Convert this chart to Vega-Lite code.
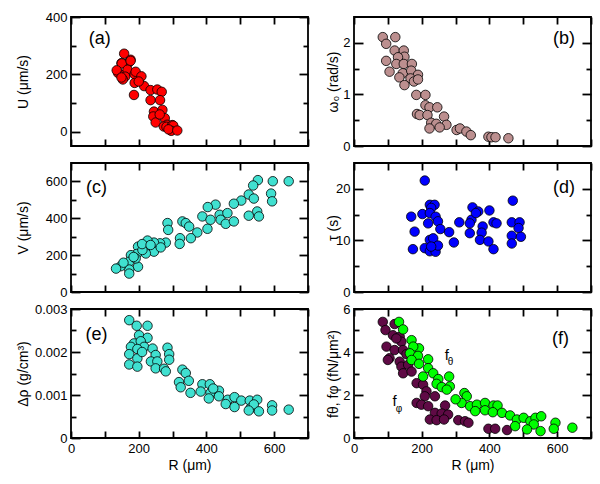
{
  "$schema": "https://vega.github.io/schema/vega-lite/v6.json",
  "padding": {"left": 15, "top": 10, "right": 5, "bottom": 5},
  "background": "white",
  "config": {
    "view": {"stroke": "#000000", "strokeWidth": 1.8},
    "axis": {"grid": false, "domain": false, "ticks": true, "tickColor": "#000000", "tickWidth": 1.8, "labelColor": "#000000", "labelFont": "Liberation Sans", "labelFontSize": 13, "titleFont": "Liberation Sans", "titleFontSize": 14, "titleFontWeight": "normal", "titleColor": "#000000", "labelFlush": false, "labelOverlap": false, "labelPadding": 4}
  },
  "datasets": {
    "a": [
      {"R":157,"U":272},{"R":176,"U":251},{"R":149,"U":239},{"R":169,"U":239},{"R":150,"U":238},{"R":176,"U":247},{"R":139,"U":205},{"R":135,"U":214},{"R":159,"U":200},{"R":167,"U":216},{"R":160,"U":192},{"R":153,"U":182},{"R":149,"U":189},{"R":188,"U":200},{"R":191,"U":209},{"R":208,"U":193},{"R":188,"U":170},{"R":186,"U":128},{"R":216,"U":159},{"R":235,"U":145},{"R":255,"U":147},{"R":268,"U":139},{"R":235,"U":110},{"R":263,"U":110},{"R":245,"U":70},{"R":270,"U":76},{"R":243,"U":53},{"R":250,"U":32},{"R":277,"U":47},{"R":284,"U":24},{"R":274,"U":18},{"R":294,"U":7},{"R":282,"U":17},{"R":299,"U":23},{"R":302,"U":21},{"R":296,"U":3},{"R":288,"U":8},{"R":314,"U":4},{"R":262,"U":60},{"R":200,"U":175}
    ],
    "b": [
      {"R":85,"w":2.11},{"R":122,"w":2.11},{"R":95,"w":1.98},{"R":120,"w":1.85},{"R":147,"w":1.85},{"R":149,"w":1.73},{"R":130,"w":1.72},{"R":95,"w":1.65},{"R":125,"w":1.59},{"R":147,"w":1.59},{"R":171,"w":1.59},{"R":105,"w":1.44},{"R":144,"w":1.41},{"R":169,"w":1.46},{"R":189,"w":1.38},{"R":134,"w":1.33},{"R":167,"w":1.31},{"R":177,"w":1.25},{"R":189,"w":1.29},{"R":149,"w":1.18},{"R":184,"w":0.99},{"R":211,"w":0.99},{"R":211,"w":0.79},{"R":223,"w":0.75},{"R":246,"w":0.75},{"R":186,"w":0.62},{"R":194,"w":0.60},{"R":217,"w":0.60},{"R":266,"w":0.57},{"R":228,"w":0.45},{"R":243,"w":0.43},{"R":273,"w":0.41},{"R":223,"w":0.34},{"R":253,"w":0.36},{"R":303,"w":0.31},{"R":313,"w":0.34},{"R":332,"w":0.28},{"R":345,"w":0.21},{"R":397,"w":0.18},{"R":406,"w":0.17},{"R":418,"w":0.17},{"R":456,"w":0.15}
    ],
    "c": [
      {"R":552,"V":607},{"R":596,"V":601},{"R":643,"V":601},{"R":538,"V":578},{"R":525,"V":529},{"R":540,"V":507},{"R":591,"V":534},{"R":594,"V":492},{"R":503,"V":496},{"R":481,"V":479},{"R":550,"V":437},{"R":525,"V":414},{"R":555,"V":410},{"R":427,"V":474},{"R":404,"V":461},{"R":388,"V":410},{"R":412,"V":392},{"R":439,"V":419},{"R":462,"V":428},{"R":442,"V":392},{"R":457,"V":370},{"R":481,"V":383},{"R":403,"V":343},{"R":373,"V":323},{"R":354,"V":292},{"R":329,"V":383},{"R":339,"V":374},{"R":349,"V":355},{"R":285,"V":374},{"R":287,"V":337},{"R":322,"V":292},{"R":321,"V":261},{"R":280,"V":268},{"R":263,"V":264},{"R":245,"V":268},{"R":226,"V":279},{"R":226,"V":246},{"R":245,"V":219},{"R":221,"V":209},{"R":198,"V":246},{"R":194,"V":206},{"R":177,"V":200},{"R":172,"V":164},{"R":198,"V":137},{"R":172,"V":122},{"R":147,"V":140},{"R":133,"V":127},{"R":172,"V":100},{"R":191,"V":182},{"R":211,"V":228},{"R":265,"V":242},{"R":155,"V":159},{"R":210,"V":260},{"R":185,"V":190},{"R":235,"V":255}
    ],
    "d": [
      {"R":209,"tau":21.6},{"R":169,"tau":14.6},{"R":179,"tau":11.7},{"R":174,"tau":8.3},{"R":202,"tau":15.1},{"R":224,"tau":16.9},{"R":238,"tau":16.9},{"R":228,"tau":16.3},{"R":224,"tau":15.3},{"R":241,"tau":14.6},{"R":219,"tau":13.3},{"R":248,"tau":13.7},{"R":255,"tau":12.2},{"R":281,"tau":11.6},{"R":295,"tau":9.6},{"R":224,"tau":10.1},{"R":234,"tau":10.4},{"R":209,"tau":8.5},{"R":224,"tau":7.9},{"R":241,"tau":7.8},{"R":248,"tau":9.0},{"R":228,"tau":8.8},{"R":311,"tau":13.5},{"R":350,"tau":16.4},{"R":367,"tau":15.6},{"R":400,"tau":15.8},{"R":347,"tau":14.0},{"R":342,"tau":13.3},{"R":380,"tau":12.7},{"R":412,"tau":13.5},{"R":421,"tau":13.3},{"R":342,"tau":11.4},{"R":377,"tau":11.5},{"R":372,"tau":10.1},{"R":397,"tau":9.8},{"R":412,"tau":8.3},{"R":469,"tau":17.7},{"R":466,"tau":13.5},{"R":489,"tau":13.5},{"R":486,"tau":12.4},{"R":466,"tau":10.9},{"R":493,"tau":10.7},{"R":466,"tau":9.4},{"R":360,"tau":15.3}
    ],
    "e": [
      {"R":172,"drho":0.00274},{"R":194,"drho":0.00261},{"R":226,"drho":0.00261},{"R":201,"drho":0.00239},{"R":226,"drho":0.00233},{"R":186,"drho":0.00220},{"R":206,"drho":0.00225},{"R":177,"drho":0.00212},{"R":216,"drho":0.00212},{"R":241,"drho":0.00208},{"R":196,"drho":0.00207},{"R":172,"drho":0.00195},{"R":196,"drho":0.00185},{"R":172,"drho":0.00171},{"R":196,"drho":0.00166},{"R":250,"drho":0.00193},{"R":236,"drho":0.00178},{"R":255,"drho":0.00178},{"R":285,"drho":0.00210},{"R":290,"drho":0.00195},{"R":290,"drho":0.00182},{"R":250,"drho":0.00162},{"R":275,"drho":0.00161},{"R":280,"drho":0.00155},{"R":329,"drho":0.00159},{"R":339,"drho":0.00151},{"R":348,"drho":0.00133},{"R":319,"drho":0.00130},{"R":324,"drho":0.00118},{"R":353,"drho":0.00105},{"R":388,"drho":0.00125},{"R":410,"drho":0.00125},{"R":412,"drho":0.00105},{"R":407,"drho":0.00092},{"R":437,"drho":0.00110},{"R":437,"drho":0.00097},{"R":463,"drho":0.00089},{"R":483,"drho":0.00095},{"R":457,"drho":0.00079},{"R":483,"drho":0.00072},{"R":503,"drho":0.00087},{"R":528,"drho":0.00087},{"R":550,"drho":0.00089},{"R":530,"drho":0.00069},{"R":540,"drho":0.00078},{"R":555,"drho":0.00062},{"R":525,"drho":0.00064},{"R":594,"drho":0.00076},{"R":594,"drho":0.00064},{"R":643,"drho":0.00066},{"R":383,"drho":0.00108},{"R":420,"drho":0.00115},{"R":210,"drho":0.00200}
    ],
    "f": [
      {"R":85,"force":5.40,"s":"phi"},{"R":93,"force":5.02,"s":"phi"},{"R":115,"force":4.78,"s":"phi"},{"R":135,"force":4.71,"s":"phi"},{"R":140,"force":4.48,"s":"phi"},{"R":96,"force":4.25,"s":"phi"},{"R":120,"force":4.09,"s":"phi"},{"R":145,"force":4.09,"s":"phi"},{"R":105,"force":3.71,"s":"phi"},{"R":135,"force":3.55,"s":"phi"},{"R":140,"force":3.32,"s":"phi"},{"R":160,"force":3.40,"s":"phi"},{"R":145,"force":3.01,"s":"phi"},{"R":170,"force":3.09,"s":"phi"},{"R":185,"force":2.55,"s":"phi"},{"R":204,"force":2.48,"s":"phi"},{"R":214,"force":2.17,"s":"phi"},{"R":209,"force":1.94,"s":"phi"},{"R":239,"force":1.94,"s":"phi"},{"R":185,"force":1.63,"s":"phi"},{"R":199,"force":1.55,"s":"phi"},{"R":219,"force":1.48,"s":"phi"},{"R":269,"force":1.51,"s":"phi"},{"R":239,"force":1.17,"s":"phi"},{"R":259,"force":1.14,"s":"phi"},{"R":278,"force":1.09,"s":"phi"},{"R":224,"force":0.86,"s":"phi"},{"R":244,"force":0.83,"s":"phi"},{"R":266,"force":0.86,"s":"phi"},{"R":308,"force":0.83,"s":"phi"},{"R":328,"force":0.78,"s":"phi"},{"R":338,"force":0.71,"s":"phi"},{"R":397,"force":0.43,"s":"phi"},{"R":417,"force":0.43,"s":"phi"},{"R":452,"force":0.37,"s":"phi"},{"R":125,"force":4.63,"s":"phi"},{"R":120,"force":5.30,"s":"phi"},{"R":100,"force":3.63,"s":"phi"},{"R":155,"force":3.9,"s":"phi"},
      {"R":133,"force":5.40,"s":"theta"},{"R":145,"force":5.05,"s":"theta"},{"R":170,"force":4.55,"s":"theta"},{"R":192,"force":4.17,"s":"theta"},{"R":175,"force":4.25,"s":"theta"},{"R":165,"force":3.94,"s":"theta"},{"R":189,"force":3.82,"s":"theta"},{"R":170,"force":3.63,"s":"theta"},{"R":192,"force":3.45,"s":"theta"},{"R":219,"force":3.66,"s":"theta"},{"R":219,"force":3.25,"s":"theta"},{"R":234,"force":3.01,"s":"theta"},{"R":249,"force":2.74,"s":"theta"},{"R":281,"force":2.86,"s":"theta"},{"R":244,"force":2.52,"s":"theta"},{"R":259,"force":2.37,"s":"theta"},{"R":283,"force":2.40,"s":"theta"},{"R":274,"force":2.25,"s":"theta"},{"R":326,"force":2.09,"s":"theta"},{"R":333,"force":1.94,"s":"theta"},{"R":318,"force":1.63,"s":"theta"},{"R":343,"force":1.48,"s":"theta"},{"R":363,"force":1.55,"s":"theta"},{"R":387,"force":1.63,"s":"theta"},{"R":412,"force":1.51,"s":"theta"},{"R":424,"force":1.51,"s":"theta"},{"R":387,"force":1.29,"s":"theta"},{"R":410,"force":1.20,"s":"theta"},{"R":437,"force":1.17,"s":"theta"},{"R":461,"force":1.05,"s":"theta"},{"R":481,"force":0.86,"s":"theta"},{"R":501,"force":0.94,"s":"theta"},{"R":521,"force":0.78,"s":"theta"},{"R":536,"force":0.94,"s":"theta"},{"R":553,"force":1.01,"s":"theta"},{"R":531,"force":0.63,"s":"theta"},{"R":551,"force":0.32,"s":"theta"},{"R":595,"force":0.71,"s":"theta"},{"R":590,"force":0.43,"s":"theta"},{"R":645,"force":0.48,"s":"theta"},{"R":204,"force":2.86,"s":"theta"},{"R":476,"force":0.55,"s":"theta"},{"R":511,"force":0.40,"s":"theta"},{"R":300,"force":1.8,"s":"theta"},{"R":358,"force":1.25,"s":"theta"}
    ]
  },
  "columns": 2,
  "spacing": {"row": 17, "column": 46},
  "bounds": "flush",
  "concat": [
    {
      "width": 237, "height": 129,
      "data": {"name": "a"},
      "layer": [
        {"mark": {"type": "circle", "size": 90, "fill": "#ff0000", "stroke": "#000000", "strokeWidth": 0.8, "opacity": 1},
         "encoding": {
           "x": {"field": "R", "type": "quantitative", "scale": {"domain": [0, 700], "nice": false, "zero": false}, "axis": {"orient": "bottom", "values": [0,100,200,300,400,500,600,700], "labels": false, "offset": -7, "tickSize": 7, "title": null}},
           "y": {"field": "U", "type": "quantitative", "scale": {"domain": [-50, 400], "nice": false, "zero": false}, "axis": {"orient": "left", "values": [0,200,400], "format": ".4~f", "offset": -9, "tickSize": 9, "title": "U (μm/s)", "titleX": -57, "titleBaseline": "middle"}}}},
        {"mark": {"type": "circle", "opacity": 0},
         "encoding": {
           "x": {"field": "R", "type": "quantitative", "scale": {"domain": [0, 700], "nice": false, "zero": false}, "axis": {"orient": "top", "values": [0,100,200,300,400,500,600,700], "labels": false, "offset": -7, "tickSize": 7, "title": null}},
           "y": {"field": "U", "type": "quantitative", "scale": {"domain": [-50, 400], "nice": false, "zero": false}, "axis": {"orient": "right", "values": [0,200,400], "labels": false, "offset": -9, "tickSize": 9, "title": null}}}},
        {"mark": {"type": "circle", "opacity": 0},
         "encoding": {
           "x": {"field": "R", "type": "quantitative", "scale": {"domain": [0, 700], "nice": false, "zero": false}, "axis": null},
           "y": {"field": "U", "type": "quantitative", "scale": {"domain": [-50, 400], "nice": false, "zero": false}, "axis": {"orient": "left", "values": [100,300], "labels": false, "offset": -5, "tickSize": 5, "title": null}}}},
        {"mark": {"type": "circle", "opacity": 0},
         "encoding": {
           "x": {"field": "R", "type": "quantitative", "scale": {"domain": [0, 700], "nice": false, "zero": false}, "axis": null},
           "y": {"field": "U", "type": "quantitative", "scale": {"domain": [-50, 400], "nice": false, "zero": false}, "axis": {"orient": "right", "values": [100,300], "labels": false, "offset": -5, "tickSize": 5, "title": null}}}},
        {"data": {"values": [{"label": "(a)", "R": 85, "U": 323}]},
         "mark": {"type": "text", "fontSize": 18, "font": "Liberation Sans", "fill": "#000000"},
         "encoding": {
           "x": {"field": "R", "type": "quantitative", "scale": {"domain": [0, 700], "nice": false, "zero": false}, "axis": null},
           "y": {"field": "U", "type": "quantitative", "scale": {"domain": [-50, 400], "nice": false, "zero": false}, "axis": null},
           "text": {"field": "label"}}}
      ],
      "resolve": {"axis": {"x": "independent", "y": "independent"}}
    },
    {
      "width": 237, "height": 129,
      "data": {"name": "b"},
      "layer": [
        {"mark": {"type": "circle", "size": 90, "fill": "#bc8f8f", "stroke": "#000000", "strokeWidth": 0.8, "opacity": 1},
         "encoding": {
           "x": {"field": "R", "type": "quantitative", "scale": {"domain": [0, 700], "nice": false, "zero": false}, "axis": {"orient": "bottom", "values": [0,100,200,300,400,500,600,700], "labels": false, "offset": -7, "tickSize": 7, "title": null}},
           "y": {"field": "w", "type": "quantitative", "scale": {"domain": [0, 2.5], "nice": false, "zero": false}, "axis": {"orient": "left", "values": [0,1,2], "format": ".4~f", "offset": -9, "tickSize": 9, "title": "ω₀ (rad/s)", "titleX": -30, "titleBaseline": "middle"}}}},
        {"mark": {"type": "circle", "opacity": 0},
         "encoding": {
           "x": {"field": "R", "type": "quantitative", "scale": {"domain": [0, 700], "nice": false, "zero": false}, "axis": {"orient": "top", "values": [0,100,200,300,400,500,600,700], "labels": false, "offset": -7, "tickSize": 7, "title": null}},
           "y": {"field": "w", "type": "quantitative", "scale": {"domain": [0, 2.5], "nice": false, "zero": false}, "axis": {"orient": "right", "values": [0,1,2], "labels": false, "offset": -9, "tickSize": 9, "title": null}}}},
        {"mark": {"type": "circle", "opacity": 0},
         "encoding": {
           "x": {"field": "R", "type": "quantitative", "scale": {"domain": [0, 700], "nice": false, "zero": false}, "axis": null},
           "y": {"field": "w", "type": "quantitative", "scale": {"domain": [0, 2.5], "nice": false, "zero": false}, "axis": {"orient": "left", "values": [0.5,1.5], "labels": false, "offset": -5, "tickSize": 5, "title": null}}}},
        {"mark": {"type": "circle", "opacity": 0},
         "encoding": {
           "x": {"field": "R", "type": "quantitative", "scale": {"domain": [0, 700], "nice": false, "zero": false}, "axis": null},
           "y": {"field": "w", "type": "quantitative", "scale": {"domain": [0, 2.5], "nice": false, "zero": false}, "axis": {"orient": "right", "values": [0.5,1.5], "labels": false, "offset": -5, "tickSize": 5, "title": null}}}},
        {"data": {"values": [{"label": "(b)", "R": 620, "w": 2.07}]},
         "mark": {"type": "text", "fontSize": 18, "font": "Liberation Sans", "fill": "#000000"},
         "encoding": {
           "x": {"field": "R", "type": "quantitative", "scale": {"domain": [0, 700], "nice": false, "zero": false}, "axis": null},
           "y": {"field": "w", "type": "quantitative", "scale": {"domain": [0, 2.5], "nice": false, "zero": false}, "axis": null},
           "text": {"field": "label"}}}
      ],
      "resolve": {"axis": {"x": "independent", "y": "independent"}}
    },
    {
      "width": 237, "height": 129,
      "data": {"name": "c"},
      "layer": [
        {"mark": {"type": "circle", "size": 90, "fill": "#40e0d0", "stroke": "#000000", "strokeWidth": 0.8, "opacity": 1},
         "encoding": {
           "x": {"field": "R", "type": "quantitative", "scale": {"domain": [0, 700], "nice": false, "zero": false}, "axis": {"orient": "bottom", "values": [0,100,200,300,400,500,600,700], "labels": false, "offset": -7, "tickSize": 7, "title": null}},
           "y": {"field": "V", "type": "quantitative", "scale": {"domain": [0, 700], "nice": false, "zero": false}, "axis": {"orient": "left", "values": [0,200,400,600], "format": ".4~f", "offset": -9, "tickSize": 9, "title": "V (μm/s)", "titleX": -57, "titleBaseline": "middle"}}}},
        {"mark": {"type": "circle", "opacity": 0},
         "encoding": {
           "x": {"field": "R", "type": "quantitative", "scale": {"domain": [0, 700], "nice": false, "zero": false}, "axis": {"orient": "top", "values": [0,100,200,300,400,500,600,700], "labels": false, "offset": -7, "tickSize": 7, "title": null}},
           "y": {"field": "V", "type": "quantitative", "scale": {"domain": [0, 700], "nice": false, "zero": false}, "axis": {"orient": "right", "values": [0,200,400,600], "labels": false, "offset": -9, "tickSize": 9, "title": null}}}},
        {"mark": {"type": "circle", "opacity": 0},
         "encoding": {
           "x": {"field": "R", "type": "quantitative", "scale": {"domain": [0, 700], "nice": false, "zero": false}, "axis": null},
           "y": {"field": "V", "type": "quantitative", "scale": {"domain": [0, 700], "nice": false, "zero": false}, "axis": {"orient": "left", "values": [100,300,500], "labels": false, "offset": -5, "tickSize": 5, "title": null}}}},
        {"mark": {"type": "circle", "opacity": 0},
         "encoding": {
           "x": {"field": "R", "type": "quantitative", "scale": {"domain": [0, 700], "nice": false, "zero": false}, "axis": null},
           "y": {"field": "V", "type": "quantitative", "scale": {"domain": [0, 700], "nice": false, "zero": false}, "axis": {"orient": "right", "values": [100,300,500], "labels": false, "offset": -5, "tickSize": 5, "title": null}}}},
        {"data": {"values": [{"label": "(c)", "R": 75, "V": 563}]},
         "mark": {"type": "text", "fontSize": 18, "font": "Liberation Sans", "fill": "#000000"},
         "encoding": {
           "x": {"field": "R", "type": "quantitative", "scale": {"domain": [0, 700], "nice": false, "zero": false}, "axis": null},
           "y": {"field": "V", "type": "quantitative", "scale": {"domain": [0, 700], "nice": false, "zero": false}, "axis": null},
           "text": {"field": "label"}}}
      ],
      "resolve": {"axis": {"x": "independent", "y": "independent"}}
    },
    {
      "width": 237, "height": 129,
      "data": {"name": "d"},
      "layer": [
        {"mark": {"type": "circle", "size": 90, "fill": "#0000ff", "stroke": "#000000", "strokeWidth": 0.8, "opacity": 1},
         "encoding": {
           "x": {"field": "R", "type": "quantitative", "scale": {"domain": [0, 700], "nice": false, "zero": false}, "axis": {"orient": "bottom", "values": [0,100,200,300,400,500,600,700], "labels": false, "offset": -7, "tickSize": 7, "title": null}},
           "y": {"field": "tau", "type": "quantitative", "scale": {"domain": [0, 25], "nice": false, "zero": false}, "axis": {"orient": "left", "values": [0,10,20], "format": ".4~f", "offset": -9, "tickSize": 9, "title": "τ (s)", "titleX": -30, "titleBaseline": "middle"}}}},
        {"mark": {"type": "circle", "opacity": 0},
         "encoding": {
           "x": {"field": "R", "type": "quantitative", "scale": {"domain": [0, 700], "nice": false, "zero": false}, "axis": {"orient": "top", "values": [0,100,200,300,400,500,600,700], "labels": false, "offset": -7, "tickSize": 7, "title": null}},
           "y": {"field": "tau", "type": "quantitative", "scale": {"domain": [0, 25], "nice": false, "zero": false}, "axis": {"orient": "right", "values": [0,10,20], "labels": false, "offset": -9, "tickSize": 9, "title": null}}}},
        {"mark": {"type": "circle", "opacity": 0},
         "encoding": {
           "x": {"field": "R", "type": "quantitative", "scale": {"domain": [0, 700], "nice": false, "zero": false}, "axis": null},
           "y": {"field": "tau", "type": "quantitative", "scale": {"domain": [0, 25], "nice": false, "zero": false}, "axis": {"orient": "left", "values": [5,15], "labels": false, "offset": -5, "tickSize": 5, "title": null}}}},
        {"mark": {"type": "circle", "opacity": 0},
         "encoding": {
           "x": {"field": "R", "type": "quantitative", "scale": {"domain": [0, 700], "nice": false, "zero": false}, "axis": null},
           "y": {"field": "tau", "type": "quantitative", "scale": {"domain": [0, 25], "nice": false, "zero": false}, "axis": {"orient": "right", "values": [5,15], "labels": false, "offset": -5, "tickSize": 5, "title": null}}}},
        {"data": {"values": [{"label": "(d)", "R": 620, "tau": 20.1}]},
         "mark": {"type": "text", "fontSize": 18, "font": "Liberation Sans", "fill": "#000000"},
         "encoding": {
           "x": {"field": "R", "type": "quantitative", "scale": {"domain": [0, 700], "nice": false, "zero": false}, "axis": null},
           "y": {"field": "tau", "type": "quantitative", "scale": {"domain": [0, 25], "nice": false, "zero": false}, "axis": null},
           "text": {"field": "label"}}}
      ],
      "resolve": {"axis": {"x": "independent", "y": "independent"}}
    },
    {
      "width": 237, "height": 129,
      "data": {"name": "e"},
      "layer": [
        {"mark": {"type": "circle", "size": 90, "fill": "#40e0d0", "stroke": "#000000", "strokeWidth": 0.8, "opacity": 1},
         "encoding": {
           "x": {"field": "R", "type": "quantitative", "scale": {"domain": [0, 700], "nice": false, "zero": false}, "axis": {"orient": "bottom", "values": [0,100,200,300,400,500,600,700], "labelExpr": "datum.value % 200 == 0 ? datum.label : ''", "format": ".4~f", "offset": -7, "tickSize": 7, "title": "R (μm)", "titlePadding": 3}},
           "y": {"field": "drho", "type": "quantitative", "scale": {"domain": [0, 0.003], "nice": false, "zero": false}, "axis": {"orient": "left", "values": [0,0.001,0.002,0.003], "format": ".4~f", "offset": -9, "tickSize": 9, "title": "Δρ (g/cm³)", "titleX": -57, "titleBaseline": "middle"}}}},
        {"mark": {"type": "circle", "opacity": 0},
         "encoding": {
           "x": {"field": "R", "type": "quantitative", "scale": {"domain": [0, 700], "nice": false, "zero": false}, "axis": {"orient": "top", "values": [0,100,200,300,400,500,600,700], "labels": false, "offset": -7, "tickSize": 7, "title": null}},
           "y": {"field": "drho", "type": "quantitative", "scale": {"domain": [0, 0.003], "nice": false, "zero": false}, "axis": {"orient": "right", "values": [0,0.001,0.002,0.003], "labels": false, "offset": -9, "tickSize": 9, "title": null}}}},
        {"mark": {"type": "circle", "opacity": 0},
         "encoding": {
           "x": {"field": "R", "type": "quantitative", "scale": {"domain": [0, 700], "nice": false, "zero": false}, "axis": null},
           "y": {"field": "drho", "type": "quantitative", "scale": {"domain": [0, 0.003], "nice": false, "zero": false}, "axis": {"orient": "left", "values": [0.0005,0.0015,0.0025], "labels": false, "offset": -5, "tickSize": 5, "title": null}}}},
        {"mark": {"type": "circle", "opacity": 0},
         "encoding": {
           "x": {"field": "R", "type": "quantitative", "scale": {"domain": [0, 700], "nice": false, "zero": false}, "axis": null},
           "y": {"field": "drho", "type": "quantitative", "scale": {"domain": [0, 0.003], "nice": false, "zero": false}, "axis": {"orient": "right", "values": [0.0005,0.0015,0.0025], "labels": false, "offset": -5, "tickSize": 5, "title": null}}}},
        {"data": {"values": [{"label": "(e)", "R": 75, "drho": 0.0024}]},
         "mark": {"type": "text", "fontSize": 18, "font": "Liberation Sans", "fill": "#000000"},
         "encoding": {
           "x": {"field": "R", "type": "quantitative", "scale": {"domain": [0, 700], "nice": false, "zero": false}, "axis": null},
           "y": {"field": "drho", "type": "quantitative", "scale": {"domain": [0, 0.003], "nice": false, "zero": false}, "axis": null},
           "text": {"field": "label"}}}
      ],
      "resolve": {"axis": {"x": "independent", "y": "independent"}}
    },
    {
      "width": 237, "height": 129,
      "data": {"name": "f"},
      "layer": [
        {"mark": {"type": "circle", "size": 90, "stroke": "#000000", "strokeWidth": 0.8, "opacity": 1},
         "encoding": {
           "x": {"field": "R", "type": "quantitative", "scale": {"domain": [0, 700], "nice": false, "zero": false}, "axis": {"orient": "bottom", "values": [0,100,200,300,400,500,600,700], "labelExpr": "datum.value % 200 == 0 ? datum.label : ''", "format": ".4~f", "offset": -7, "tickSize": 7, "title": "R (μm)", "titlePadding": 3}},
           "y": {"field": "force", "type": "quantitative", "scale": {"domain": [0, 6], "nice": false, "zero": false}, "axis": {"orient": "left", "values": [0,2,4,6], "format": ".4~f", "offset": -9, "tickSize": 9, "title": "fθ, fφ (fN/μm²)", "titleX": -30, "titleBaseline": "middle"}},
           "fill": {"field": "s", "type": "nominal", "scale": {"domain": ["phi", "theta"], "range": ["#5f0a45", "#00ff00"]}, "legend": null}}},
        {"mark": {"type": "circle", "opacity": 0},
         "encoding": {
           "x": {"field": "R", "type": "quantitative", "scale": {"domain": [0, 700], "nice": false, "zero": false}, "axis": {"orient": "top", "values": [0,100,200,300,400,500,600,700], "labels": false, "offset": -7, "tickSize": 7, "title": null}},
           "y": {"field": "force", "type": "quantitative", "scale": {"domain": [0, 6], "nice": false, "zero": false}, "axis": {"orient": "right", "values": [0,2,4,6], "labels": false, "offset": -9, "tickSize": 9, "title": null}}}},
        {"mark": {"type": "circle", "opacity": 0},
         "encoding": {
           "x": {"field": "R", "type": "quantitative", "scale": {"domain": [0, 700], "nice": false, "zero": false}, "axis": null},
           "y": {"field": "force", "type": "quantitative", "scale": {"domain": [0, 6], "nice": false, "zero": false}, "axis": {"orient": "left", "values": [1,3,5], "labels": false, "offset": -5, "tickSize": 5, "title": null}}}},
        {"mark": {"type": "circle", "opacity": 0},
         "encoding": {
           "x": {"field": "R", "type": "quantitative", "scale": {"domain": [0, 700], "nice": false, "zero": false}, "axis": null},
           "y": {"field": "force", "type": "quantitative", "scale": {"domain": [0, 6], "nice": false, "zero": false}, "axis": {"orient": "right", "values": [1,3,5], "labels": false, "offset": -5, "tickSize": 5, "title": null}}}},
        {"data": {"values": [{"label": "(f)", "R": 610, "force": 4.6}]},
         "mark": {"type": "text", "fontSize": 18, "font": "Liberation Sans", "fill": "#000000"},
         "encoding": {
           "x": {"field": "R", "type": "quantitative", "scale": {"domain": [0, 700], "nice": false, "zero": false}, "axis": null},
           "y": {"field": "force", "type": "quantitative", "scale": {"domain": [0, 6], "nice": false, "zero": false}, "axis": null},
           "text": {"field": "label"}}},
        {"data": {"values": [{"label": "f", "R": 274, "force": 3.86}, {"label": "f", "R": 120, "force": 1.74}]},
         "mark": {"type": "text", "fontSize": 15, "font": "Liberation Sans", "fill": "#000000"},
         "encoding": {
           "x": {"field": "R", "type": "quantitative", "scale": {"domain": [0, 700], "nice": false, "zero": false}, "axis": null},
           "y": {"field": "force", "type": "quantitative", "scale": {"domain": [0, 6], "nice": false, "zero": false}, "axis": null},
           "text": {"field": "label"}}},
        {"data": {"values": [{"label": "θ", "R": 285, "force": 3.52}, {"label": "φ", "R": 133, "force": 1.37}]},
         "mark": {"type": "text", "fontSize": 10, "font": "Liberation Sans", "fill": "#000000"},
         "encoding": {
           "x": {"field": "R", "type": "quantitative", "scale": {"domain": [0, 700], "nice": false, "zero": false}, "axis": null},
           "y": {"field": "force", "type": "quantitative", "scale": {"domain": [0, 6], "nice": false, "zero": false}, "axis": null},
           "text": {"field": "label"}}}
      ],
      "resolve": {"axis": {"x": "independent", "y": "independent"}}
    }
  ]
}
